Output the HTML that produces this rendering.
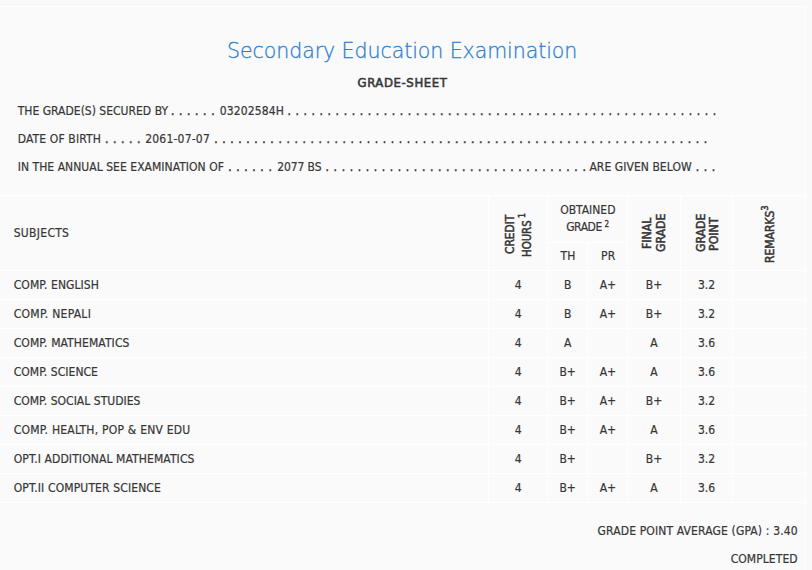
<!DOCTYPE html>
<html lang="en">
<head>
<meta charset="utf-8">
<title>Secondary Education Examination - Grade-Sheet</title>
<style>
html,body{margin:0;padding:0}
body{width:812px;height:570px;overflow:hidden;background:#f9f9f9;position:relative;
 font-family:'DejaVu Sans Condensed', 'Liberation Sans', sans-serif;font-size:12px;color:#363636}
.panel{position:absolute;left:0;top:6px;width:805px;height:564px;background:#fafafa;
 border-top:1px solid #fff;border-right:1px solid #fff;box-sizing:content-box}
.t{position:absolute;white-space:pre;line-height:1;margin:0;padding:0;-webkit-text-stroke:0.2px currentColor}
.b{-webkit-text-stroke:0.3px currentColor}
.m{-webkit-text-stroke:0.55px currentColor}
.d{-webkit-text-stroke:0.45px currentColor}
.hl{position:absolute;left:0;width:805px;height:1px;background:#fff}
.vl{position:absolute;top:195px;width:1px;height:308px;background:#fff}
.v{position:absolute;white-space:pre;line-height:14px;-webkit-text-stroke:0.5px currentColor;transform-origin:0 0}
.v sup,.t sup{font-size:9px;line-height:0;vertical-align:baseline;position:relative;top:-5.6px}
</style>
</head>
<body>
<div class="panel"></div>

<div class="hl" style="top:195px"></div>
<div class="hl" style="top:270px"></div>
<div class="hl" style="top:299px"></div>
<div class="hl" style="top:328px"></div>
<div class="hl" style="top:357px"></div>
<div class="hl" style="top:386px"></div>
<div class="hl" style="top:415px"></div>
<div class="hl" style="top:444px"></div>
<div class="hl" style="top:473px"></div>
<div class="hl" style="top:502px"></div>
<div class="hl" style="top:242px;left:548px;width:79px"></div>
<div class="vl" style="left:488px"></div>
<div class="vl" style="left:547px"></div>
<div class="vl" style="left:627px"></div>
<div class="vl" style="left:680px"></div>
<div class="vl" style="left:732px"></div>
<div class="vl" style="left:587px;top:242px;height:261px"></div>
<div class="t b" style="font-family:'DejaVu Sans Light', 'DejaVu Sans', 'Liberation Sans', sans-serif;font-size:20.5px;font-weight:200;color:#2c7fd2;left:202.17px;width:400px;text-align:center;top:39px;line-height:24px;letter-spacing:-0.052px">Secondary Education Examination</div>
<div class="t m" style="font-size:13px;left:202.50px;width:400px;text-align:center;top:75px;line-height:15px;letter-spacing:0.598px">GRADE-SHEET</div>
<div class="t" style="left:17.70px;top:104px;line-height:14px;letter-spacing:0.009px">THE GRADE(S) SECURED BY</div>
<div class="t d" style="left:171.03px;top:104px;line-height:14px;letter-spacing:0.585px">. . . . . .</div>
<div class="t" style="left:219.70px;top:104px;line-height:14px;letter-spacing:0.137px">03202584H</div>
<div class="t d" style="left:287.48px;top:104px;line-height:14px;letter-spacing:0.585px">. . . . . . . . . . . . . . . . . . . . . . . . . . . . . . . . . . . . . . . . . . . . . . . . . . . . . .</div>
<div class="t" style="left:17.70px;top:132px;line-height:14px;letter-spacing:0.141px">DATE OF BIRTH</div>
<div class="t d" style="left:104.98px;top:132px;line-height:14px;letter-spacing:0.585px">. . . . .</div>
<div class="t" style="left:145.20px;top:132px;line-height:14px;letter-spacing:0.207px">2061-07-07</div>
<div class="t d" style="left:214.18px;top:132px;line-height:14px;letter-spacing:0.585px">. . . . . . . . . . . . . . . . . . . . . . . . . . . . . . . . . . . . . . . . . . . . . . . . . . . . . . . . . . . . . .</div>
<div class="t" style="left:17.70px;top:160px;line-height:14px;letter-spacing:0.043px">IN THE ANNUAL SEE EXAMINATION OF</div>
<div class="t d" style="left:228.28px;top:160px;line-height:14px;letter-spacing:0.585px">. . . . . .</div>
<div class="t" style="left:277.20px;top:160px;line-height:14px;letter-spacing:-0.093px">2077 BS</div>
<div class="t d" style="left:325.58px;top:160px;line-height:14px;letter-spacing:0.585px">. . . . . . . . . . . . . . . . . . . . . . . . . . . . . . . . .</div>
<div class="t" style="left:589.40px;top:160px;line-height:14px;letter-spacing:0.062px">ARE GIVEN BELOW</div>
<div class="t d" style="left:695.68px;top:160px;line-height:14px;letter-spacing:0.585px">. . .</div>
<div class="t" style="left:13.70px;top:226px;line-height:14px;letter-spacing:0.305px">SUBJECTS</div>
<div class="t" style="left:547.85px;width:80px;text-align:center;top:203px;line-height:14px;letter-spacing:-0.005px">OBTAINED</div>
<div class="t" style="left:544.03px;width:80px;text-align:center;top:220px;line-height:14px;letter-spacing:-0.441px">GRADE</div>
<div class="t b" style="font-size:8px;left:604.50px;top:220px;line-height:9px;letter-spacing:0.422px">2</div>
<div class="t" style="left:527.92px;width:80px;text-align:center;top:249px;line-height:14px;letter-spacing:0.041px">TH</div>
<div class="t" style="left:568.35px;width:80px;text-align:center;top:249px;line-height:14px;letter-spacing:0.292px">PR</div>
<div class="t" style="left:13.70px;top:278px;line-height:14px;letter-spacing:0.078px">COMP. ENGLISH</div>
<div class="t" style="left:488.30px;width:60px;text-align:center;top:278px;line-height:14px">4</div>
<div class="t" style="left:537.70px;width:60px;text-align:center;top:278px;line-height:14px">B</div>
<div class="t" style="left:577.90px;width:60px;text-align:center;top:278px;line-height:14px">A+</div>
<div class="t" style="left:624.00px;width:60px;text-align:center;top:278px;line-height:14px">B+</div>
<div class="t" style="left:676.50px;width:60px;text-align:center;top:278px;line-height:14px">3.2</div>
<div class="t" style="left:13.70px;top:307px;line-height:14px;letter-spacing:0.278px">COMP. NEPALI</div>
<div class="t" style="left:488.30px;width:60px;text-align:center;top:307px;line-height:14px">4</div>
<div class="t" style="left:537.70px;width:60px;text-align:center;top:307px;line-height:14px">B</div>
<div class="t" style="left:577.90px;width:60px;text-align:center;top:307px;line-height:14px">A+</div>
<div class="t" style="left:624.00px;width:60px;text-align:center;top:307px;line-height:14px">B+</div>
<div class="t" style="left:676.50px;width:60px;text-align:center;top:307px;line-height:14px">3.2</div>
<div class="t" style="left:13.70px;top:336px;line-height:14px;letter-spacing:0.100px">COMP. MATHEMATICS</div>
<div class="t" style="left:488.30px;width:60px;text-align:center;top:336px;line-height:14px">4</div>
<div class="t" style="left:537.70px;width:60px;text-align:center;top:336px;line-height:14px">A</div>
<div class="t" style="left:624.00px;width:60px;text-align:center;top:336px;line-height:14px">A</div>
<div class="t" style="left:676.50px;width:60px;text-align:center;top:336px;line-height:14px">3.6</div>
<div class="t" style="left:13.70px;top:365px;line-height:14px;letter-spacing:0.047px">COMP. SCIENCE</div>
<div class="t" style="left:488.30px;width:60px;text-align:center;top:365px;line-height:14px">4</div>
<div class="t" style="left:537.70px;width:60px;text-align:center;top:365px;line-height:14px">B+</div>
<div class="t" style="left:577.90px;width:60px;text-align:center;top:365px;line-height:14px">A+</div>
<div class="t" style="left:624.00px;width:60px;text-align:center;top:365px;line-height:14px">A</div>
<div class="t" style="left:676.50px;width:60px;text-align:center;top:365px;line-height:14px">3.6</div>
<div class="t" style="left:13.70px;top:394px;line-height:14px;letter-spacing:0.026px">COMP. SOCIAL STUDIES</div>
<div class="t" style="left:488.30px;width:60px;text-align:center;top:394px;line-height:14px">4</div>
<div class="t" style="left:537.70px;width:60px;text-align:center;top:394px;line-height:14px">B+</div>
<div class="t" style="left:577.90px;width:60px;text-align:center;top:394px;line-height:14px">A+</div>
<div class="t" style="left:624.00px;width:60px;text-align:center;top:394px;line-height:14px">B+</div>
<div class="t" style="left:676.50px;width:60px;text-align:center;top:394px;line-height:14px">3.2</div>
<div class="t" style="left:13.70px;top:423px;line-height:14px;letter-spacing:0.228px">COMP. HEALTH, POP &amp; ENV EDU</div>
<div class="t" style="left:488.30px;width:60px;text-align:center;top:423px;line-height:14px">4</div>
<div class="t" style="left:537.70px;width:60px;text-align:center;top:423px;line-height:14px">B+</div>
<div class="t" style="left:577.90px;width:60px;text-align:center;top:423px;line-height:14px">A+</div>
<div class="t" style="left:624.00px;width:60px;text-align:center;top:423px;line-height:14px">A</div>
<div class="t" style="left:676.50px;width:60px;text-align:center;top:423px;line-height:14px">3.6</div>
<div class="t" style="left:13.70px;top:452px;line-height:14px;letter-spacing:0.107px">OPT.I ADDITIONAL MATHEMATICS</div>
<div class="t" style="left:488.30px;width:60px;text-align:center;top:452px;line-height:14px">4</div>
<div class="t" style="left:537.70px;width:60px;text-align:center;top:452px;line-height:14px">B+</div>
<div class="t" style="left:624.00px;width:60px;text-align:center;top:452px;line-height:14px">B+</div>
<div class="t" style="left:676.50px;width:60px;text-align:center;top:452px;line-height:14px">3.2</div>
<div class="t" style="left:13.70px;top:481px;line-height:14px;letter-spacing:0.129px">OPT.II COMPUTER SCIENCE</div>
<div class="t" style="left:488.30px;width:60px;text-align:center;top:481px;line-height:14px">4</div>
<div class="t" style="left:537.70px;width:60px;text-align:center;top:481px;line-height:14px">B+</div>
<div class="t" style="left:577.90px;width:60px;text-align:center;top:481px;line-height:14px">A+</div>
<div class="t" style="left:624.00px;width:60px;text-align:center;top:481px;line-height:14px">A</div>
<div class="t" style="left:676.50px;width:60px;text-align:center;top:481px;line-height:14px">3.6</div>
<div class="t" style="right:14.26px;top:524px;line-height:14px;letter-spacing:0.142px">GRADE POINT AVERAGE (GPA) : 3.40</div>
<div class="t" style="right:14.34px;top:552px;line-height:14px;letter-spacing:0.064px">COMPLETED</div>
<div class="v" style="left:503.30px;top:254.44px;transform:rotate(-90deg) scaleX(0.983)">CREDIT</div>
<div class="v" style="left:520.40px;top:256.90px;transform:rotate(-90deg) scaleX(0.941)">HOURS<sup style="margin-left:2.5px">1</sup></div>
<div class="v" style="left:639.90px;top:248.77px;transform:rotate(-90deg) scaleX(1.018)">FINAL</div>
<div class="v" style="left:654.40px;top:252.36px;transform:rotate(-90deg) scaleX(1.014)">GRADE</div>
<div class="v" style="left:693.60px;top:252.36px;transform:rotate(-90deg) scaleX(1.014)">GRADE</div>
<div class="v" style="left:707.10px;top:250.67px;transform:rotate(-90deg) scaleX(1.024)">POINT</div>
<div class="v" style="left:763.30px;top:262.95px;transform:rotate(-90deg) scaleX(0.999)">REMARKS<sup>3</sup></div>
</body>
</html>
